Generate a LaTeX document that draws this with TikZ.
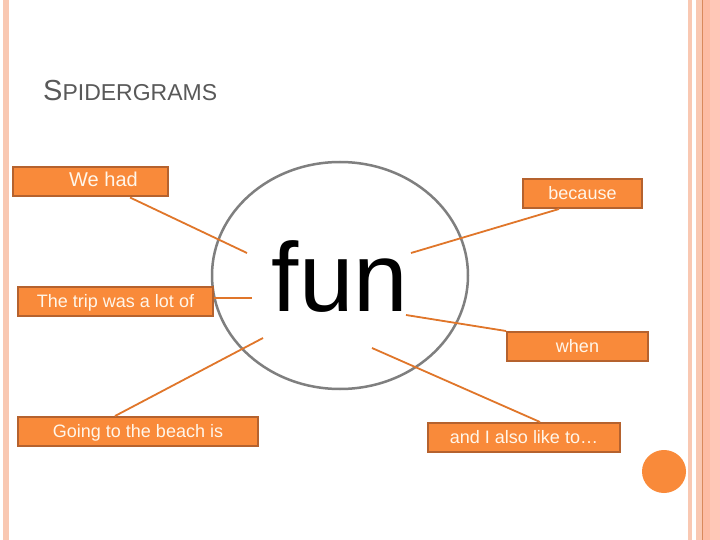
\documentclass[tikz,border=0pt]{standalone}
\usepackage{fontspec}
\setmainfont{Liberation Sans}
\usetikzlibrary{shapes.geometric}
\definecolor{pinkA}{HTML}{F9C8B2}
\definecolor{pinkB}{HTML}{FDBCA4}
\definecolor{pinkC}{HTML}{FFC7B7}
\definecolor{pinkLine}{HTML}{D98A5C}
\definecolor{boxfill}{HTML}{F98A3A}
\definecolor{boxedge}{HTML}{B5622E}
\definecolor{wire}{HTML}{E0762A}
\definecolor{ring}{HTML}{7F7F7F}
\definecolor{titlegray}{HTML}{595959}
\definecolor{cream}{HTML}{FFF6EA}
\tikzset{
  lbl/.style={draw=boxedge, fill=boxfill, line width=2pt, inner sep=0pt,
    text=cream, font=\fontsize{18}{18}\selectfont,
    text height=12pt, text depth=0pt, minimum height=29pt},
  wirestyle/.style={draw=wire, line width=1.8pt},
}
\begin{document}
\begin{tikzpicture}[x=1pt,y=-1pt]
\useasboundingbox (0,0) rectangle (720,540);
\fill[white] (0,0) rectangle (720,540);
% borders
\fill[pinkA] (3,0) rectangle (9,540);
\fill[pinkA] (688,0) rectangle (692,540);
\fill[pinkA] (696,0) rectangle (702,540);
\fill[pinkB] (702,0) rectangle (710,540);
\fill[pinkC] (710,0) rectangle (720,540);
\draw[pinkLine, line width=1pt] (702.5,0) -- (702.5,540);
% title
\node[anchor=base west, inner sep=0pt, text=titlegray] (title) at (43,101)
  {\fontsize{29}{29}\selectfont S\fontsize{23}{23}\selectfont PIDERGRAMS};
% hub
\node[ellipse, draw=ring, line width=2.5pt, inner sep=0pt,
  minimum width=256pt, minimum height=227pt,
  font=\fontsize{98}{98}\selectfont, text height=72pt, text depth=0pt] (hub) at (340,275.5) {fun};
% boxes
\node[lbl, minimum width=155pt, text height=10pt, font=\fontsize{20}{20}\selectfont] (wehad) at (90.5,182) {\hspace*{26pt}We had};
\node[lbl, minimum width=195pt] (trip) at (115.5,301.5) {The trip was a lot of};
\node[lbl, minimum width=240pt] (going) at (138,431.5) {Going to the beach is};
\node[lbl, minimum width=119pt] (because) at (582.5,193.5) {because};
\node[lbl, minimum width=141pt] (when) at (577.5,346.5) {when};
\node[lbl, minimum width=192pt] (also) at (524,437.5) {and I also like to…};
% free ends inside hub
\coordinate (e1) at (247,253);
\coordinate (e2) at (252,298);
\coordinate (e3) at (263,338);
\coordinate (e4) at (411,253);
\coordinate (e5) at (406,315);
\coordinate (e6) at (372,348);
% connectors
\draw[wirestyle] ([xshift=39.5pt]wehad.south) -- (e1);
\draw[wirestyle] ([yshift=3.5pt]trip.east) -- (e2);
\draw[wirestyle] ([xshift=-23pt]going.north) -- (e3);
\draw[wirestyle] ([xshift=-23.5pt]because.south) -- (e4);
\draw[wirestyle] (when.north west) -- (e5);
\draw[wirestyle] ([xshift=16pt]also.north) -- (e6);
% accent dot
\fill[boxfill] (664,471.5) ellipse (22pt and 21.5pt);
\end{tikzpicture}
\end{document}
